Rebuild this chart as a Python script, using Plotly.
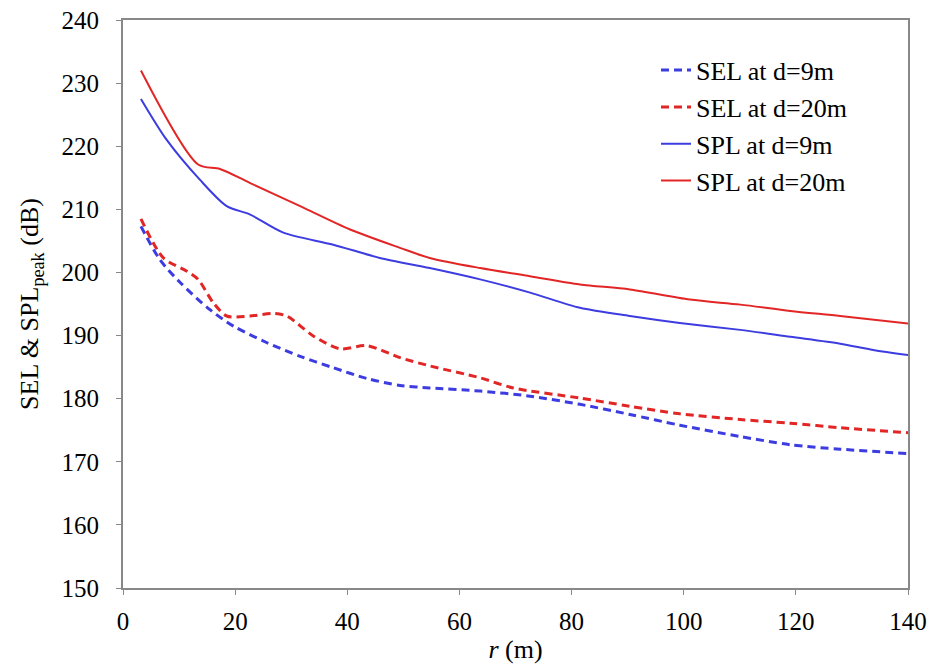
import plotly.graph_objects as go

r_sel9 = [3.2, 6.6, 10.2, 15.5, 19.7, 25.6, 31.6, 37.5, 43.5, 49.4, 54.7, 63.7, 72.6, 81.5, 90.4, 99.3, 110.1, 119.0, 127.9, 140]
sel9 = [207.3, 202.0, 198.4, 194.1, 191.5, 188.9, 186.7, 184.9, 183.2, 182.1, 181.7, 181.2, 180.4, 179.1, 177.5, 175.8, 174.0, 172.7, 172.0, 171.3]

r_sel20 = [3.2, 7.2, 11.4, 13.4, 16.1, 18.5, 22.6, 26.8, 29.2, 34.0, 38.7, 43.5, 49.4, 54.7, 63.7, 69.6, 81.5, 90.4, 99.3, 110.1, 119.0, 127.9, 140]
sel20 = [208.5, 202.3, 200.2, 198.9, 195.2, 193.1, 193.1, 193.5, 193.1, 189.9, 187.9, 188.4, 186.5, 185.2, 183.3, 181.7, 180.1, 178.8, 177.6, 176.7, 176.1, 175.4, 174.6]

r_spl9 = [3.2, 7.8, 13.7, 18.5, 22.6, 28.6, 37.5, 45.8, 54.7, 63.7, 72.6, 81.5, 90.4, 99.3, 110.1, 119.0, 127.9, 133.8, 140]
spl9 = [227.5, 221.0, 214.7, 210.5, 209.2, 206.3, 204.4, 202.3, 200.7, 198.9, 196.8, 194.4, 193.1, 192.0, 190.9, 189.8, 188.7, 187.7, 186.9]

r_spl20 = [3.2, 13.4, 17.3, 22.6, 31.6, 40.5, 49.4, 54.7, 63.7, 72.6, 81.5, 90.4, 101.1, 110.1, 119.0, 127.9, 140]
spl20 = [232.0, 217.1, 216.4, 214.2, 210.5, 206.8, 203.9, 202.3, 200.7, 199.4, 198.1, 197.3, 195.7, 194.9, 193.9, 193.1, 191.9]

BLUE = "#3c3ce0"
RED = "#e22626"
FONT = "Liberation Serif, Times New Roman, Times, serif"

fig = go.Figure()
fig.add_trace(go.Scatter(x=r_sel9, y=sel9, mode="lines", name="SEL at d=9m",
                         line=dict(color=BLUE, width=3, dash="8px,5px", shape="spline", smoothing=0.8)))
fig.add_trace(go.Scatter(x=r_sel20, y=sel20, mode="lines", name="SEL at d=20m",
                         line=dict(color=RED, width=3, dash="8px,5px", shape="spline", smoothing=0.8)))
fig.add_trace(go.Scatter(x=r_spl9, y=spl9, mode="lines", name="SPL at d=9m",
                         line=dict(color=BLUE, width=2, shape="spline", smoothing=0.8)))
fig.add_trace(go.Scatter(x=r_spl20, y=spl20, mode="lines", name="SPL at d=20m",
                         line=dict(color=RED, width=2, shape="spline", smoothing=0.8)))

fig.update_layout(
    width=929, height=664,
    margin=dict(l=123, r=21, t=20, b=76),
    paper_bgcolor="white", plot_bgcolor="white",
    font=dict(family=FONT, color="black", size=25),
    showlegend=True,
    legend=dict(x=0.679, y=0.953, xanchor="left", yanchor="top",
                font=dict(family=FONT, size=26, color="black"),
                bgcolor="rgba(0,0,0,0)", tracegroupgap=0, itemwidth=30),
)
fig.update_xaxes(range=[0, 140], tickvals=[0, 20, 40, 60, 80, 100, 120, 140], automargin=False,
                 showgrid=False, zeroline=False, showline=True, linecolor="#888888", linewidth=2,
                 mirror=True, ticks="outside", ticklen=5, tickcolor="#888888", ticklabelstandoff=5,
                 ticklabeloverflow="allow",
                 tickfont=dict(family=FONT, size=25, color="black"),
                 title=dict(text="<i>r</i> (m)", font=dict(family=FONT, size=26, color="black"), standoff=6))
fig.update_yaxes(range=[150, 240], tickvals=list(range(150, 241, 10)), automargin=False,
                 showgrid=False, zeroline=False, showline=True, linecolor="#888888", linewidth=2,
                 mirror=True, ticks="outside", ticklen=5, tickcolor="#888888", ticklabelstandoff=12,
                 ticklabeloverflow="allow",
                 tickfont=dict(family=FONT, size=25, color="black"),
                 title=dict(text="SEL &amp; SPL<sub>peak</sub> (dB)", font=dict(family=FONT, size=26, color="black"), standoff=15))

fig.write_html("out.html", config={"displayModeBar": False},
               post_script="document.body.style.margin='0';document.body.style.overflow='hidden';document.documentElement.style.overflow='hidden';")
